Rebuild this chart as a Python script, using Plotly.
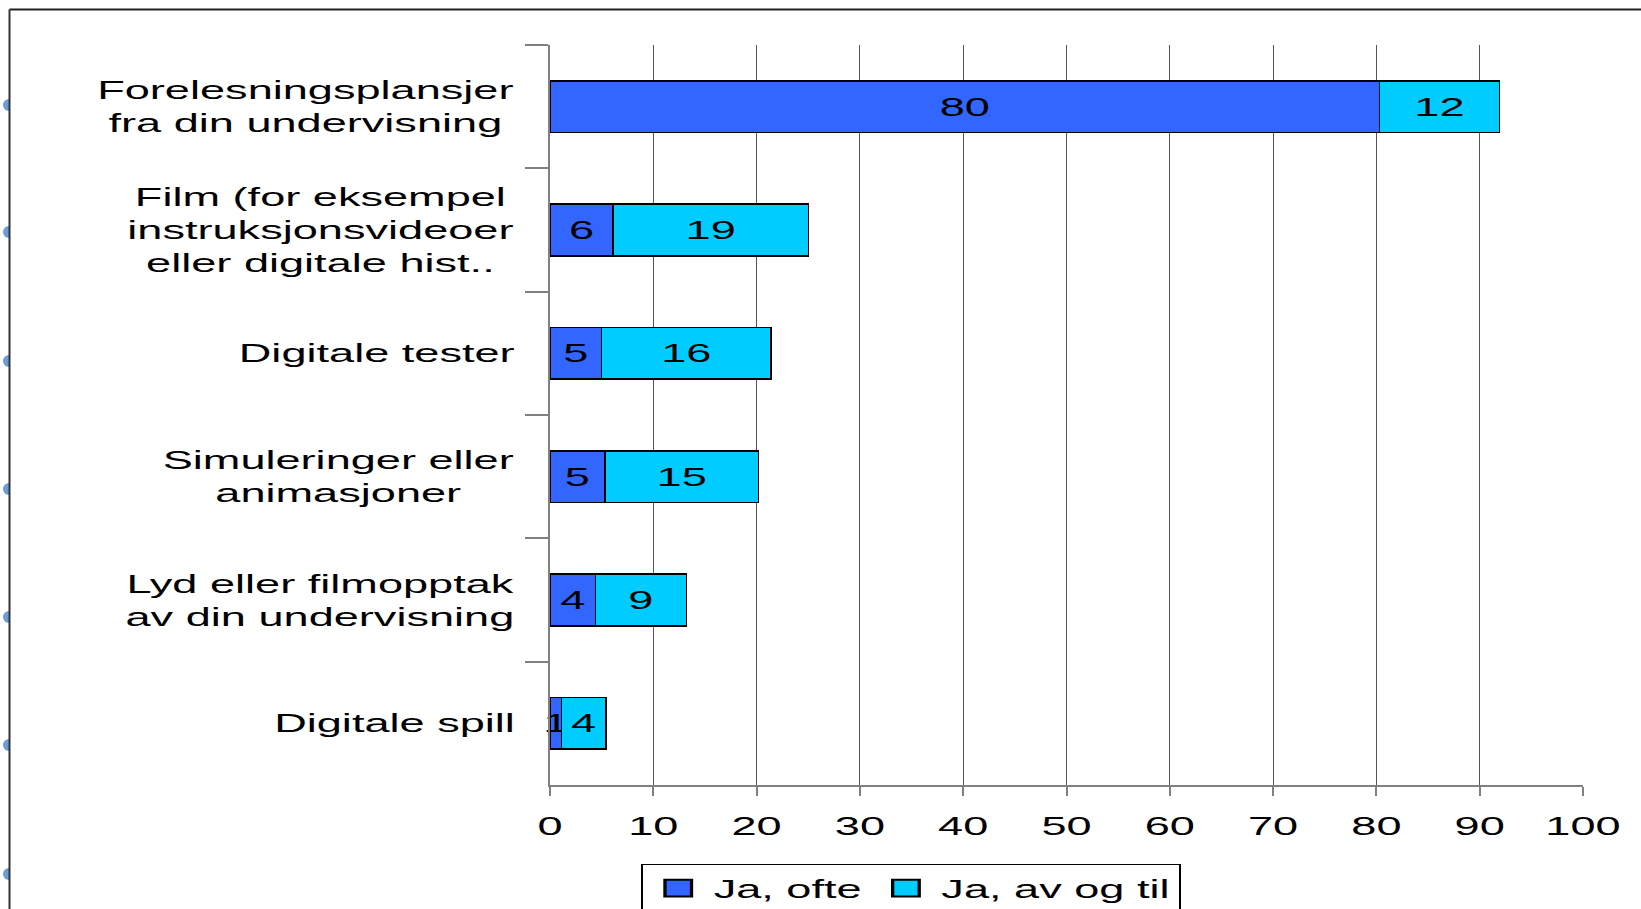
import plotly.graph_objects as go

categories = [
    "Forelesningsplansjer<br>fra din undervisning",
    "Film (for eksempel<br>instruksjonsvideoer<br>eller digitale hist..",
    "Digitale tester",
    "Simuleringer eller<br>animasjoner",
    "Lyd eller filmopptak<br>av din undervisning",
    "Digitale spill",
]
ja_ofte = [80.3, 6.1, 5.0, 5.3, 4.4, 1.1]
ja_av_og_til = [11.6, 18.9, 16.4, 14.9, 8.8, 4.3]
series_names = ["Ja, ofte", "Ja, av og til"]
x_ticks = list(range(0, 101, 10))

FONT = "Liberation Sans, Arial, sans-serif"
FS = 25.5
STRETCH = 1.77  # the source slide's text is horizontally stretched
BLUE = "#3366FF"
CYAN = "#00CCFF"

W, H = 1641, 909
ML, MR, MT, MB = 550, 58, 45, 124
PW, PH = W - ML - MR, H - MT - MB


def px2paper_x(px):
    return (px - ML) / PW


def px2paper_y(py):
    return (H - MB - py) / PH


fig = go.Figure()
for name, vals, col in [(series_names[0], ja_ofte, BLUE), (series_names[1], ja_av_og_til, CYAN)]:
    fig.add_trace(go.Bar(
        y=categories, x=vals, name=name, orientation="h",
        marker=dict(color=col, line=dict(color="black", width=1.5)),
        width=0.42,
        texttemplate="%{x:.0f}", textposition="inside", insidetextanchor="middle",
        textfont=dict(family=FONT, size=FS, color="black"),
        constraintext="none", cliponaxis=False,
    ))

annotations = []
for c in categories:
    annotations.append(dict(
        x=px2paper_x(518), xref="paper", y=c, yref="y",
        text=c, showarrow=False, xanchor="right", yanchor="middle", align="center",
        font=dict(family=FONT, size=FS, color="black"),
    ))

shapes = []
# decorative dots at left edge of the slide
for py in [105, 232, 361, 489, 617, 745, 874]:
    shapes.append(dict(type="circle", xref="paper", yref="paper",
                       x0=px2paper_x(3), x1=px2paper_x(15),
                       y0=px2paper_y(py + 6), y1=px2paper_y(py - 6),
                       fillcolor="#6b9bd8", line=dict(width=0), layer="above"))
shapes.append(dict(type="rect", xref="paper", yref="paper",
                   x0=px2paper_x(9.5), x1=px2paper_x(20),
                   y0=px2paper_y(915), y1=px2paper_y(10),
                   fillcolor="white", line=dict(width=0), layer="above"))
# slide frame
shapes.append(dict(type="line", xref="paper", yref="paper",
                   x0=px2paper_x(9.5), x1=px2paper_x(1660),
                   y0=px2paper_y(9.5), y1=px2paper_y(9.5),
                   line=dict(color="#222222", width=2), layer="above"))
shapes.append(dict(type="line", xref="paper", yref="paper",
                   x0=px2paper_x(9.5), x1=px2paper_x(9.5),
                   y0=px2paper_y(9.5), y1=px2paper_y(930),
                   line=dict(color="#333333", width=2), layer="above"))

fig.update_layout(
    barmode="stack",
    width=W, height=H,
    margin=dict(l=ML, r=MR, t=MT, b=MB, autoexpand=False),
    paper_bgcolor="white", plot_bgcolor="white",
    font=dict(family=FONT, size=FS, color="black"),
    uniformtext=dict(minsize=FS, mode="show"),
    showlegend=True,
    legend=dict(orientation="h", x=px2paper_x(911), xanchor="center",
                y=px2paper_y(864), yanchor="top",
                bordercolor="black", borderwidth=1, bgcolor="white",
                font=dict(family=FONT, size=FS, color="black"),
                traceorder="normal"),
    annotations=annotations,
    shapes=shapes,
)
fig.update_xaxes(
    range=[0, 100], tickvals=x_ticks, ticktext=[str(t) for t in x_ticks],
    showgrid=True, gridcolor="#555555", gridwidth=1,
    showline=True, linecolor="#808080", linewidth=1.5,
    ticks="outside", ticklen=9, tickcolor="#808080", tickwidth=1.5,
    ticklabelstandoff=9,
    tickfont=dict(family=FONT, size=FS, color="black"),
    zeroline=False, fixedrange=True,
)
fig.update_yaxes(
    autorange="reversed", showticklabels=False,
    showgrid=False, showline=True, linecolor="#808080", linewidth=1.5,
    ticks="outside", ticklen=23, tickcolor="#808080", tickwidth=1.5,
    tickson="boundaries", fixedrange=True,
)

post_js = """
(function(){
  document.body.style.margin = '0';
  var S = %s;
  var gd = document.querySelector('.plotly-graph-div');
  if (!gd) return;
  var NS = 'http://www.w3.org/2000/svg';
  function wrap(el, mode, sx, sy){
    if (!el || !el.parentNode) return;
    var p = el.parentNode;
    if (p.getAttribute && p.getAttribute('data-stretch')) return;
    var g = document.createElementNS(NS, 'g');
    g.setAttribute('data-stretch', '1');
    p.insertBefore(g, el);
    g.appendChild(el);
    var bb = g.getBBox();
    var ax;
    if (mode === 'end') ax = bb.x + bb.width;
    else if (mode === 'start') ax = bb.x;
    else ax = bb.x + bb.width / 2;
    var ay = bb.y + bb.height / 2;
    g.setAttribute('transform', 'translate(' + ax + ',' + ay + ') scale(' + sx + ',' + sy + ') translate(' + (-ax) + ',' + (-ay) + ')');
  }
  gd.querySelectorAll('g.legend g.legendpoints path').forEach(function(t){ wrap(t, 'middle', 1.25, 1.4); });
  gd.querySelectorAll('g.xtick > text').forEach(function(t){ wrap(t, 'middle', S, 1); });
  gd.querySelectorAll('text.bartext').forEach(function(t){ wrap(t, 'middle', S, 1); });
  gd.querySelectorAll('g.annotation').forEach(function(a){ wrap(a, 'end', S, 1); });
  gd.querySelectorAll('g.legend').forEach(function(l){ wrap(l, 'middle', S, 1); });
})();
""" % STRETCH

fig.write_html("out.html", post_script=post_js, config={"displayModeBar": False})
